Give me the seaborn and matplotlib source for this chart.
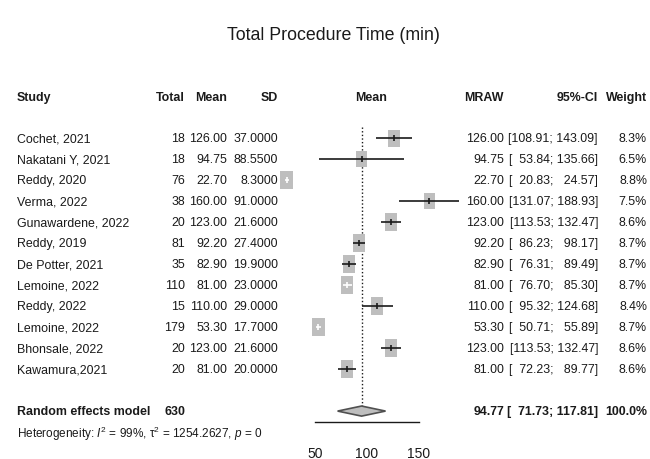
import numpy as np
import pandas as pd
import matplotlib
matplotlib.use("Agg")
import matplotlib.pyplot as plt
import matplotlib.transforms as mtransforms
from matplotlib.patches import Polygon
import seaborn as sns

# ---- study-level data -------------------------------------------------------
studies = ["Cochet, 2021", "Nakatani Y, 2021", "Reddy, 2020", "Verma, 2022",
           "Gunawardene, 2022", "Reddy, 2019", "De Potter, 2021", "Lemoine, 2022",
           "Reddy, 2022", "Lemoine, 2022", "Bhonsale, 2022", "Kawamura,2021"]
totals = [18, 18, 76, 38, 20, 81, 35, 110, 15, 179, 20, 20]
means = [126.00, 94.75, 22.70, 160.00, 123.00, 92.20, 82.90, 81.00,
         110.00, 53.30, 123.00, 81.00]
sds = [37.0, 88.55, 8.3, 91.0, 21.6, 27.4, 19.9, 23.0, 29.0, 17.7, 21.6, 20.0]
ci_lower = [108.91, 53.84, 20.83, 131.07, 113.53, 86.23, 76.31, 76.70,
            95.32, 50.71, 113.53, 72.23]
ci_upper = [143.09, 135.66, 24.57, 188.93, 132.47, 98.17, 89.49, 85.30,
            124.68, 55.89, 132.47, 89.77]
weights = [8.3, 6.5, 8.8, 7.5, 8.6, 8.7, 8.7, 8.7, 8.4, 8.7, 8.6, 8.6]

# ---- pooled (random effects) result ----------------------------------------
pooled_total = 630
pooled_mean = 94.77
pooled_lower = 71.73
pooled_upper = 117.81
i2 = 99
tau2 = 1254.2627
p_value = 0

x_ticks = [50, 100, 150]
title = "Total Procedure Time (min)"

# ---- styling ----------------------------------------------------------------
sns.set_style("white")
fam = ["Liberation Sans", "DejaVu Sans"]
plt.rcParams["font.family"] = fam
plt.rcParams["mathtext.fontset"] = "custom"
plt.rcParams["mathtext.rm"] = "Liberation Sans"
plt.rcParams["mathtext.it"] = "Liberation Sans:italic"
plt.rcParams["mathtext.bf"] = "Liberation Sans:bold"

FS = 8.9
INK = "#1a1a1a"
BOX = "#BEBEBE"

W, H = 650, 460
fig = plt.figure(figsize=(W / 100, H / 100), dpi=100)
fig.patch.set_facecolor("white")

# forest panel: x from 50 to 150, one row per study
ax = fig.add_axes([315 / W, 1 - 423 / H, 104 / W, 295 / H])
ax.patch.set_alpha(0)
n = len(studies)
rows = np.arange(n)
sum_row = n + 1
ax.set_xlim(x_ticks[0], x_ticks[-1])
ax.set_ylim(13.52, -0.524)

df = pd.DataFrame({"mean": means, "row": rows, "weight": weights,
                   "lo": ci_lower, "hi": ci_upper})

# weight-scaled boxes (area proportional to weight)
k = 18.05
box_marker = [(-0.353, -0.5), (0.353, -0.5), (0.353, 0.5), (-0.353, 0.5), (-0.353, -0.5)]
sns.scatterplot(data=df, x="mean", y="row", size="weight", sizes=(0, k * 10),
                size_norm=(0, 10), marker=box_marker, color=BOX, edgecolor="none",
                linewidth=0, legend=False, ax=ax, clip_on=False, zorder=2)

# confidence intervals: white when the interval sits inside its box
px_per_unit = (104 / (x_ticks[-1] - x_ticks[0]))
box_half = 0.706 * np.sqrt(k * df["weight"]) * 100 / 72 / 2 / px_per_unit
inside = (df["hi"] - df["lo"]) / 2 < box_half
colors = np.where(inside, "white", INK)
ax.hlines(df["row"], df["lo"], df["hi"], colors=colors, linewidth=1.2,
          clip_on=False, zorder=3)
ax.vlines(df["mean"], df["row"] - 0.14, df["row"] + 0.14, colors=colors,
          linewidth=1.2, clip_on=False, zorder=3)

# pooled estimate diamond and reference line
dh = 0.24
diamond = Polygon([(pooled_lower, sum_row), (pooled_mean, sum_row - dh),
                   (pooled_upper, sum_row), (pooled_mean, sum_row + dh)],
                  closed=True, facecolor=BOX, edgecolor="#505050", linewidth=1.2,
                  clip_on=False, zorder=3)
ax.add_patch(diamond)
ax.vlines(pooled_mean, -0.524, sum_row - dh, colors=INK, linestyles=(0, (1, 1.6)),
          linewidth=1.0, zorder=1)

# axis
sns.despine(ax=ax, left=True, top=True, right=True)
ax.set_yticks([])
ax.set_xticks(x_ticks)
ax.set_xticklabels([str(t) for t in x_ticks])
ax.tick_params(axis="x", direction="out", length=7.2, width=1.0, color=INK,
               pad=10, labelsize=10, labelcolor=INK)
ax.spines["bottom"].set_linewidth(1.0)
ax.spines["bottom"].set_color(INK)
ax.set_xlabel("")
ax.set_ylabel("")

# ---- text columns -------------------------------------------------------------
tr = mtransforms.blended_transform_factory(fig.transFigure, ax.transData)


def put(xpx, row, s, ha="left", bold=False, size=FS):
    ax.text(xpx / W, row, s, transform=tr, ha=ha, va="center", fontsize=size,
            fontweight="bold" if bold else "normal", color=INK, clip_on=False)


def fmt_ci(lo, hi):
    a = f"{lo:6.2f}".replace(" ", "\u2007")
    b = f"{hi:6.2f}".replace(" ", "\u2007")
    return f"[{a}; {b}]"


hdr = -1.95
put(17, hdr, "Study", bold=True)
put(185, hdr, "Total", ha="right", bold=True)
put(227, hdr, "Mean", ha="right", bold=True)
put(278, hdr, "SD", ha="right", bold=True)
put(371, hdr, "Mean", ha="center", bold=True)
put(504, hdr, "MRAW", ha="right", bold=True)
put(598, hdr, "95%-CI", ha="right", bold=True)
put(647, hdr, "Weight", ha="right", bold=True)

for i in range(n):
    put(17, i, studies[i])
    put(185, i, f"{totals[i]}", ha="right")
    put(227, i, f"{means[i]:.2f}", ha="right")
    put(278, i, f"{sds[i]:.4f}", ha="right")
    put(504, i, f"{means[i]:.2f}", ha="right")
    put(598, i, fmt_ci(ci_lower[i], ci_upper[i]), ha="right")
    put(647, i, f"{weights[i]:.1f}%", ha="right")

put(17, sum_row, "Random effects model", bold=True)
put(185, sum_row, f"{pooled_total}", ha="right", bold=True)
put(504, sum_row, f"{pooled_mean:.2f}", ha="right", bold=True)
put(598, sum_row, fmt_ci(pooled_lower, pooled_upper), ha="right", bold=True)
put(647, sum_row, f"{sum(weights) / sum(weights) * 100:.1f}%", ha="right", bold=True)

put(17, sum_row + 1.05,
    rf"Heterogeneity: $I^2$ = {i2}%, τ$^2$ = {tau2:.4f}, $p$ = {p_value}",
    size=8.5)

fig.text(333 / W, 1 - 35 / H, title, ha="center", va="center", fontsize=12.8,
         color=INK)

fig.savefig("out.png", dpi=100, facecolor="white")
